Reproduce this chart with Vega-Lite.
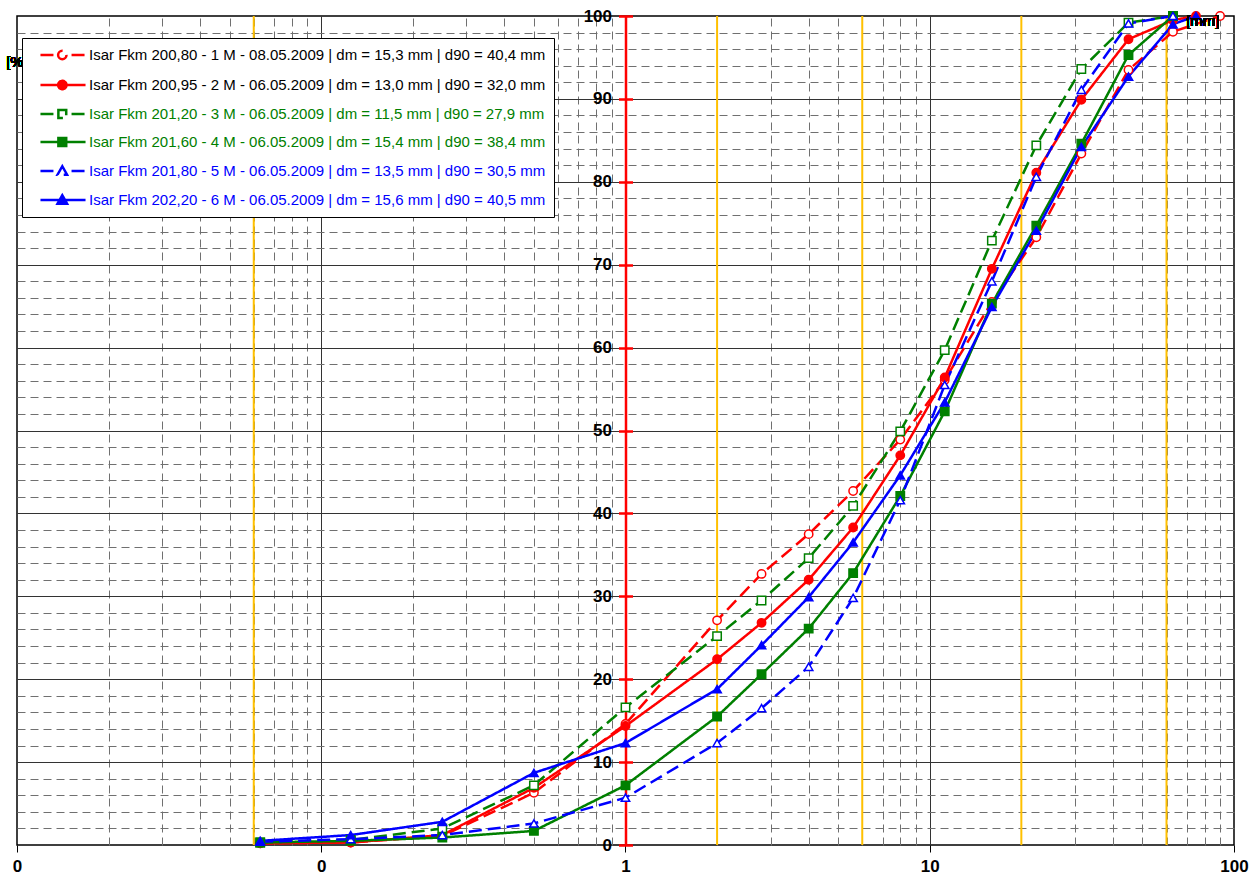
{
  "$schema": "https://vega.github.io/schema/vega-lite/v6.json",
  "width": 1217,
  "height": 829,
  "autosize": {"type": "none"},
  "padding": {"left": 17, "top": 16, "right": 23, "bottom": 35},
  "background": "white",
  "config": {"view": {"stroke": "black", "strokeWidth": 1.5}, "font": "Liberation Sans"},
  "datasets": {
    "samples": [
      {"id": 1, "name": "Isar Fkm 200,80 - 1 M - 08.05.2009 | dm = 15,3 mm | d90 = 40,4 mm"},
      {"id": 2, "name": "Isar Fkm 200,95 - 2 M - 06.05.2009 | dm = 13,0 mm | d90 = 32,0 mm"},
      {"id": 3, "name": "Isar Fkm 201,20 - 3 M - 06.05.2009 | dm = 11,5 mm | d90 = 27,9 mm"},
      {"id": 4, "name": "Isar Fkm 201,60 - 4 M - 06.05.2009 | dm = 15,4 mm | d90 = 38,4 mm"},
      {"id": 5, "name": "Isar Fkm 201,80 - 5 M - 06.05.2009 | dm = 13,5 mm | d90 = 30,5 mm"},
      {"id": 6, "name": "Isar Fkm 202,20 - 6 M - 06.05.2009 | dm = 15,6 mm | d90 = 40,5 mm"}
    ],
    "sieve": [
      {"id": 1, "d": 0.063, "p": 0.2}, {"id": 1, "d": 0.125, "p": 0.3}, {"id": 1, "d": 0.25, "p": 1.1}, {"id": 1, "d": 0.5, "p": 6.3},
      {"id": 1, "d": 1, "p": 14.6}, {"id": 1, "d": 2, "p": 27.1}, {"id": 1, "d": 2.8, "p": 32.7}, {"id": 1, "d": 4, "p": 37.5},
      {"id": 1, "d": 5.6, "p": 42.7}, {"id": 1, "d": 8, "p": 48.9}, {"id": 1, "d": 11.2, "p": 56.1}, {"id": 1, "d": 16, "p": 65.5},
      {"id": 1, "d": 22.4, "p": 73.3}, {"id": 1, "d": 31.5, "p": 83.4}, {"id": 1, "d": 45, "p": 93.5}, {"id": 1, "d": 63, "p": 98.1},
      {"id": 1, "d": 90, "p": 100},
      {"id": 2, "d": 0.063, "p": 0.2}, {"id": 2, "d": 0.125, "p": 0.3}, {"id": 2, "d": 0.25, "p": 1.2}, {"id": 2, "d": 0.5, "p": 6.9},
      {"id": 2, "d": 1, "p": 14.35}, {"id": 2, "d": 2, "p": 22.4}, {"id": 2, "d": 2.8, "p": 26.8}, {"id": 2, "d": 4, "p": 32.0},
      {"id": 2, "d": 5.6, "p": 38.3}, {"id": 2, "d": 8, "p": 47.0}, {"id": 2, "d": 11.2, "p": 56.4}, {"id": 2, "d": 16, "p": 69.5},
      {"id": 2, "d": 22.4, "p": 81.1}, {"id": 2, "d": 31.5, "p": 89.9}, {"id": 2, "d": 45, "p": 97.2}, {"id": 2, "d": 63, "p": 99.5},
      {"id": 2, "d": 75, "p": 100},
      {"id": 3, "d": 0.063, "p": 0.3}, {"id": 3, "d": 0.125, "p": 0.6}, {"id": 3, "d": 0.25, "p": 2.0}, {"id": 3, "d": 0.5, "p": 7.2},
      {"id": 3, "d": 1, "p": 16.6}, {"id": 3, "d": 2, "p": 25.2}, {"id": 3, "d": 2.8, "p": 29.5}, {"id": 3, "d": 4, "p": 34.6},
      {"id": 3, "d": 5.6, "p": 40.9}, {"id": 3, "d": 8, "p": 49.9}, {"id": 3, "d": 11.2, "p": 59.7}, {"id": 3, "d": 16, "p": 72.9},
      {"id": 3, "d": 22.4, "p": 84.4}, {"id": 3, "d": 31.5, "p": 93.6}, {"id": 3, "d": 45, "p": 99.2}, {"id": 3, "d": 63, "p": 100},
      {"id": 4, "d": 0.063, "p": 0.3}, {"id": 4, "d": 0.125, "p": 0.5}, {"id": 4, "d": 0.25, "p": 0.9}, {"id": 4, "d": 0.5, "p": 1.7},
      {"id": 4, "d": 1, "p": 7.2}, {"id": 4, "d": 2, "p": 15.5}, {"id": 4, "d": 2.8, "p": 20.6}, {"id": 4, "d": 4, "p": 26.1},
      {"id": 4, "d": 5.6, "p": 32.8}, {"id": 4, "d": 8, "p": 42.1}, {"id": 4, "d": 11.2, "p": 52.3}, {"id": 4, "d": 16, "p": 65.3},
      {"id": 4, "d": 22.4, "p": 74.7}, {"id": 4, "d": 31.5, "p": 84.6}, {"id": 4, "d": 45, "p": 95.3}, {"id": 4, "d": 63, "p": 100},
      {"id": 5, "d": 0.063, "p": 0.4}, {"id": 5, "d": 0.125, "p": 0.7}, {"id": 5, "d": 0.25, "p": 1.2}, {"id": 5, "d": 0.5, "p": 2.6},
      {"id": 5, "d": 1, "p": 5.7}, {"id": 5, "d": 2, "p": 12.3}, {"id": 5, "d": 2.8, "p": 16.5}, {"id": 5, "d": 4, "p": 21.5},
      {"id": 5, "d": 5.6, "p": 29.8}, {"id": 5, "d": 8, "p": 41.6}, {"id": 5, "d": 11.2, "p": 55.5}, {"id": 5, "d": 16, "p": 68.0},
      {"id": 5, "d": 22.4, "p": 80.6}, {"id": 5, "d": 31.5, "p": 91.1}, {"id": 5, "d": 45, "p": 99.1}, {"id": 5, "d": 63, "p": 100},
      {"id": 6, "d": 0.063, "p": 0.5}, {"id": 6, "d": 0.125, "p": 1.2}, {"id": 6, "d": 0.25, "p": 2.8}, {"id": 6, "d": 0.5, "p": 8.7},
      {"id": 6, "d": 1, "p": 12.3}, {"id": 6, "d": 2, "p": 18.8}, {"id": 6, "d": 2.8, "p": 24.1}, {"id": 6, "d": 4, "p": 29.9},
      {"id": 6, "d": 5.6, "p": 36.5}, {"id": 6, "d": 8, "p": 44.6}, {"id": 6, "d": 11.2, "p": 53.4}, {"id": 6, "d": 16, "p": 64.9},
      {"id": 6, "d": 22.4, "p": 74.1}, {"id": 6, "d": 31.5, "p": 84.2}, {"id": 6, "d": 45, "p": 92.7}, {"id": 6, "d": 63, "p": 99.0},
      {"id": 6, "d": 75, "p": 100}
    ],
    "bounds": [{"g": 0.06}, {"g": 2}, {"g": 6}, {"g": 20}, {"g": 60}]
  },
  "data": {"name": "sieve"},
  "transform": [{"lookup": "id", "from": {"data": {"name": "samples"}, "key": "id", "fields": ["name"]}}],
  "resolve": {"axis": {"x": "independent", "y": "independent"}},
  "layer": [
    {
      "data": {"name": "bounds"},
      "mark": {"type": "rule", "color": "#FFC000", "strokeWidth": 2},
      "encoding": {
        "x": {
          "field": "g", "type": "quantitative",
          "scale": {"type": "log", "domain": [0.01, 100]},
          "axis": {
            "orient": "bottom", "title": null, "labels": false, "ticks": false, "domain": false, "grid": true,
            "values": [0.02, 0.03, 0.04, 0.05, 0.06, 0.07, 0.08, 0.09, 0.1, 0.2, 0.3, 0.4, 0.5, 0.6, 0.7, 0.8, 0.9, 1, 2, 3, 4, 5, 6, 7, 8, 9, 10, 20, 30, 40, 50, 60, 70, 80, 90],
            "gridWidth": 1,
            "gridColor": {"condition": {"test": "datum.value == 0.1 || datum.value == 1 || datum.value == 10", "value": "#333333"}, "value": "#707070"},
            "gridDash": {"condition": {"test": "datum.value == 0.1 || datum.value == 1 || datum.value == 10", "value": []}, "value": [8, 5]}
          }
        }
      }
    },
    {
      "mark": {"type": "line", "strokeWidth": 2.5},
      "encoding": {
        "x": {"field": "d", "type": "quantitative", "scale": {"type": "log", "domain": [0.01, 100]}, "axis": null},
        "y": {
          "field": "p", "type": "quantitative", "scale": {"domain": [0, 100], "nice": false},
          "axis": {
            "orient": "left", "title": null, "labels": false, "ticks": false, "domain": false, "grid": true,
            "values": [2, 4, 6, 8, 10, 12, 14, 16, 18, 20, 22, 24, 26, 28, 30, 32, 34, 36, 38, 40, 42, 44, 46, 48, 50, 52, 54, 56, 58, 60, 62, 64, 66, 68, 70, 72, 74, 76, 78, 80, 82, 84, 86, 88, 90, 92, 94, 96, 98],
            "gridWidth": 1,
            "gridColor": {"condition": {"test": "datum.value % 10 == 0", "value": "#333333"}, "value": "#707070"},
            "gridDash": {"condition": {"test": "datum.value % 10 == 0", "value": []}, "value": [8, 5]}
          }
        },
        "color": {
          "field": "name", "type": "nominal",
          "scale": {"range": ["red", "red", "green", "green", "blue", "blue"]},
          "legend": {
            "title": null, "orient": "none", "legendX": 5, "legendY": 22, "zindex": 0,
            "padding": 8, "strokeColor": "black", "fillColor": "white",
            "labelFont": "Liberation Sans", "labelFontSize": 15, "labelLimit": 0, "labelOffset": 0,
            "rowPadding": 10, "symbolSize": 3136, "symbolStrokeWidth": 2.5,
            "encoding": {
              "symbols": {
                "y": {"value": 9},
                "shape": {"value": {"expr": "indexof(datum.label,'200,80')>=0 ? 'M-0.68,0H-0.05M0.43,0H0.93M-0.05,0A0.15,0.15 0 1,0 0.25,0A0.15,0.15 0 1,0 -0.05,0Z' : indexof(datum.label,'200,95')>=0 ? 'M-0.68,0H0.93M-0.05,0A0.15,0.15 0 1,0 0.25,0A0.15,0.15 0 1,0 -0.05,0Z' : indexof(datum.label,'201,20')>=0 ? 'M-0.68,0H-0.04M0.43,0H0.93M-0.04,-0.14H0.24V0.14H-0.04Z' : indexof(datum.label,'201,60')>=0 ? 'M-0.68,0H0.93M-0.04,-0.14H0.24V0.14H-0.04Z' : indexof(datum.label,'201,80')>=0 ? 'M-0.68,0H-0.02M0.43,0H0.93M0.1,-0.17L0.27,0.13H-0.07Z' : 'M-0.68,0H0.93M0.1,-0.17L0.27,0.13H-0.07Z'"}},
                "fill": {"value": {"expr": "indexof(datum.label,'200,95')>=0 ? 'red' : indexof(datum.label,'201,60')>=0 ? 'green' : indexof(datum.label,'202,20')>=0 ? 'blue' : 'white'"}},
                "strokeDash": {"value": [1, 0]}
              },
              "labels": {
                "y": {"value": 9},
                "fill": {"value": {"expr": "indexof(datum.label,'Fkm 200')>=0 ? 'black' : (indexof(datum.label,'201,20')>=0 || indexof(datum.label,'201,60')>=0) ? 'green' : 'blue'"}}
              }
            }
          }
        },
        "strokeDash": {
          "field": "name", "type": "nominal",
          "scale": {"range": [[13, 6], [1, 0], [13, 6], [1, 0], [13, 6], [1, 0]]},
          "legend": null
        }
      }
    },
    {
      "mark": {"type": "point", "size": 70, "strokeWidth": 1.5, "opacity": 1},
      "encoding": {
        "x": {
          "field": "d", "type": "quantitative", "scale": {"type": "log", "domain": [0.01, 100]},
          "axis": {
            "orient": "bottom", "title": null, "grid": false, "domain": false,
            "values": [0.01, 0.1, 1, 10, 100], "format": ".0f",
            "tickColor": "black", "tickSize": 7, "tickWidth": 1,
            "labelPadding": 6, "labelFont": "Liberation Sans", "labelFontSize": 17, "labelFontWeight": "bold", "labelColor": "black",
            "labelFlush": false, "labelOverlap": false, "labelBound": false
          }
        },
        "y": {
          "field": "p", "type": "quantitative", "scale": {"domain": [0, 100], "nice": false},
          "axis": {
            "orient": "left", "offset": -608.5, "title": null, "grid": false,
            "values": [0, 10, 20, 30, 40, 50, 60, 70, 80, 90, 100],
            "domain": true, "domainColor": "red", "domainWidth": 2.5,
            "tickColor": "red", "tickWidth": 2.5, "tickSize": 7,
            "labelPadding": 7, "labelFont": "Liberation Sans", "labelFontSize": 17, "labelFontWeight": "bold", "labelColor": "black",
            "labelFlush": false, "labelOverlap": false
          }
        },
        "shape": {"field": "name", "type": "nominal", "scale": {"range": ["circle", "circle", "square", "square", "triangle-up", "triangle-up"]}, "legend": null},
        "fill": {"field": "name", "type": "nominal", "scale": {"range": ["white", "red", "white", "green", "white", "blue"]}, "legend": null},
        "stroke": {"field": "name", "type": "nominal", "scale": {"range": ["red", "red", "green", "green", "blue", "blue"]}, "legend": null}
      }
    },
    {
      "mark": {"type": "text", "text": "[%]", "fontSize": 15, "font": "Liberation Sans", "align": "center", "baseline": "middle", "color": "black", "zindex": 3},
      "encoding": {
        "x": {"datum": 0.01, "type": "quantitative", "axis": null},
        "y": {
          "datum": 94.4, "type": "quantitative",
          "axis": {
            "orient": "right", "offset": -608.5, "title": null, "labels": false, "domain": false, "grid": false,
            "values": [0, 10, 20, 30, 40, 50, 60, 70, 80, 90, 100],
            "tickColor": "red", "tickWidth": 2.5, "tickSize": 7
          }
        }
      }
    },
    {
      "mark": {"type": "text", "text": "[mm]", "fontSize": 15, "font": "Liberation Sans", "align": "center", "baseline": "middle", "color": "black", "zindex": 3},
      "encoding": {
        "x": {"datum": 79, "type": "quantitative", "axis": null},
        "y": {"datum": 99.4, "type": "quantitative", "axis": null}
      }
    }
  ]
}
